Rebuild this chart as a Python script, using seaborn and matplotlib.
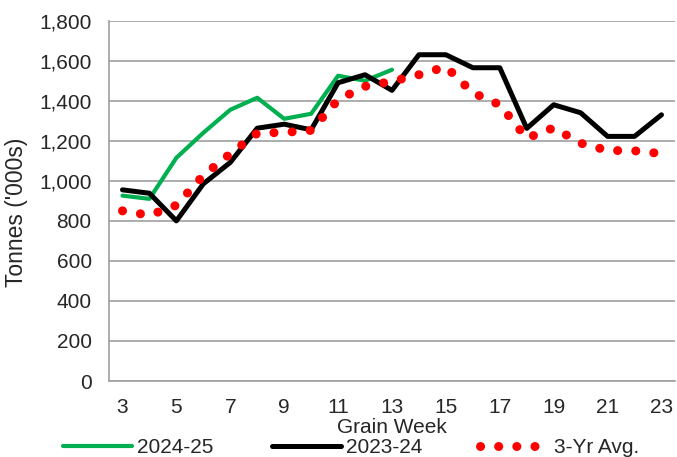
import numpy as np
import pandas as pd
import matplotlib as mpl
mpl.use('Agg')
import matplotlib.pyplot as plt
import matplotlib.ticker as mticker
import seaborn as sns

# Data (tonnes, '000s)
weeks = [3, 4, 5, 6, 7, 8, 9, 10, 11, 12, 13, 14, 15, 16, 17, 18, 19, 20, 21, 22, 23]
weeks_2425 = [3, 4, 5, 6, 7, 8, 9, 10, 11, 12, 13]
vals_2425 = [926, 910, 1115, 1240, 1355, 1415, 1310, 1335, 1525, 1500, 1555]
vals_2324 = [955, 938, 800, 985, 1092, 1263, 1283, 1255, 1490, 1530, 1452,
             1630, 1630, 1565, 1565, 1262, 1380, 1340, 1222, 1222, 1330]
vals_avg = [850, 828, 878, 1027, 1135, 1238, 1242, 1252, 1405, 1472, 1497,
            1530, 1570, 1440, 1380, 1213, 1265, 1188, 1152, 1150, 1136]
labels = ['2024-25', '2023-24', '3-Yr Avg.']

sns.set_style('white')
plt.rcParams['font.family'] = ['Liberation Sans', 'DejaVu Sans']
plt.rcParams['font.size'] = 15

fig = plt.figure(figsize=(6.77, 4.57), dpi=100)
ax = fig.add_axes([0.161, 0.1663, 0.836, 0.7884])

d25 = pd.DataFrame({'week': weeks_2425, 'val': vals_2425})
d24 = pd.DataFrame({'week': weeks, 'val': vals_2324})
davg = pd.DataFrame({'week': weeks, 'val': vals_avg})

sns.lineplot(data=d25, x='week', y='val', ax=ax, color='#00B050', lw=3.0,
             label=labels[0], zorder=3)
sns.lineplot(data=d24, x='week', y='val', ax=ax, color='black', lw=3.6,
             label=labels[1], zorder=4)
sns.lineplot(data=davg, x='week', y='val', ax=ax, color='#FF0000', lw=6.5,
             label=labels[2], zorder=5)
# round-dot line for the 3 year average
ax.lines[-1].set_linestyle((0, (0.01, 2.0)))
ax.lines[-1].set_dash_capstyle('round')

ax.set_xlim(2.5, 23.5)
ax.set_ylim(0, 1800)
ax.yaxis.set_major_locator(mticker.MultipleLocator(200))
ax.yaxis.set_major_formatter(mticker.StrMethodFormatter('{x:,.0f}'))

# tick marks on week boundaries, labels on odd weeks
ax.set_xticks(np.arange(2.5, 24, 1.0))
ax.set_xticklabels([])
ax.set_xticks(weeks[::2], minor=True)
ax.set_xticklabels([str(w) for w in weeks[::2]], minor=True)
ax.tick_params(axis='x', which='major', direction='out', length=4,
               width=1, color='#a0a0a0')
ax.tick_params(axis='x', which='minor', length=0, pad=12)
ax.tick_params(axis='y', direction='out', length=4, width=1,
               color='#a0a0a0', pad=8.5)

ax.grid(axis='y', color='#a0a0a0', lw=1.2)
ax.set_axisbelow(True)
for s in ['top', 'right']:
    ax.spines[s].set_visible(False)
for s in ['left', 'bottom']:
    ax.spines[s].set_color('#a0a0a0')
    ax.spines[s].set_linewidth(1.2)

ax.set_xlabel('Grain Week', labelpad=1)
ax.set_ylabel("Tonnes ('000s)", fontsize=16.5)
ax.yaxis.set_label_coords(-0.143, 0.469)

handles, lbls = ax.get_legend_handles_labels()
ax.get_legend().remove()
fig.legend(handles, lbls, loc='center', ncol=3, frameon=False,
           bbox_to_anchor=(0.519, 0.02), handlelength=3.3, handletextpad=0.25,
           columnspacing=2.8, borderaxespad=0)

fig.savefig('out.png', dpi=100)
